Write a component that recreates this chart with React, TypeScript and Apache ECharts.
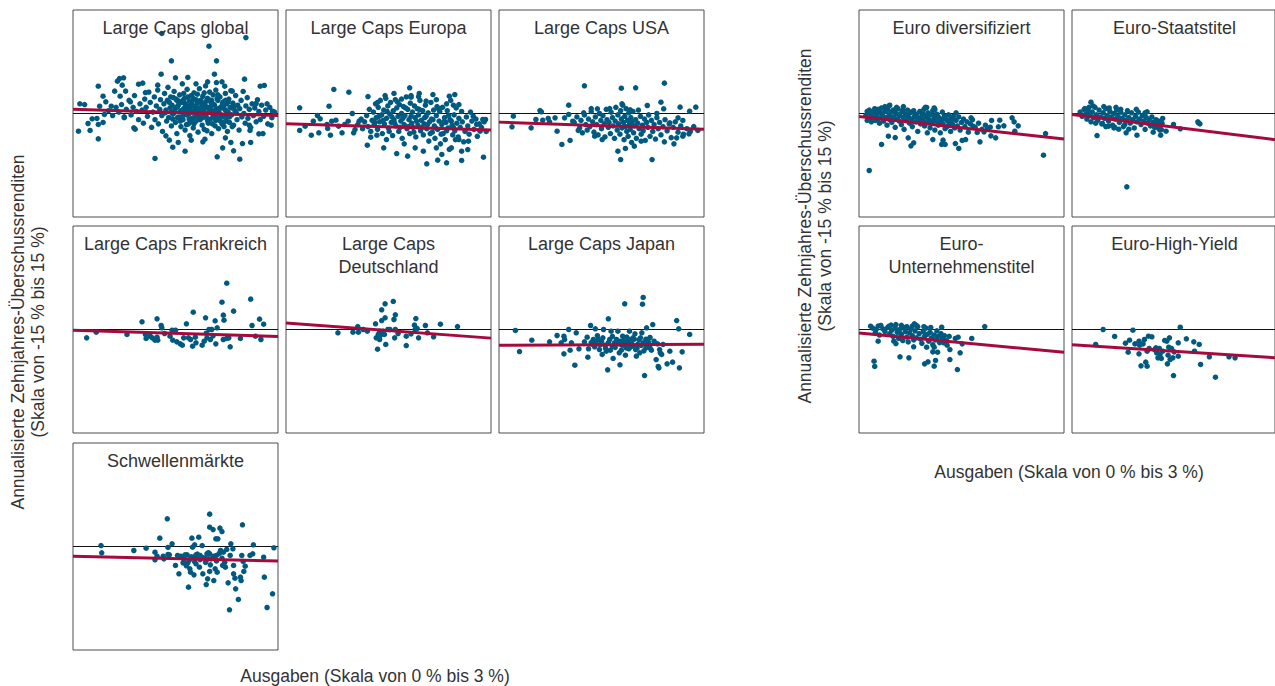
import React, { useEffect, useRef } from "react";
import * as echarts from "echarts";

// ---------- DATA ----------
const panelTitles = [
  "Large Caps global",
  "Large Caps Europa",
  "Large Caps USA",
  "Large Caps Frankreich",
  "Large Caps\nDeutschland",
  "Large Caps Japan",
  "Schwellenmärkte",
  "Euro diversifiziert",
  "Euro-Staatstitel",
  "Euro-\nUnternehmenstitel",
  "Euro-High-Yield",
];

const yAxisTitle = "Annualisierte Zehnjahres-Überschussrenditen\n(Skala von -15 % bis 15 %)";
const xAxisTitle = "Ausgaben (Skala von 0 % bis 3 %)";

const xRange = [0, 3];
const yRange = [-15, 15];

// regression lines: [value at 0 %, value at 3 %]
const fitLines = [
  [0.6, -0.3],
  [-1.5, -2.4],
  [-1.25, -2.3],
  [-0.1, -1.0],
  [0.95, -1.25],
  [-2.3, -2.15],
  [-1.4, -2.1],
  [-0.45, -3.7],
  [-0.15, -3.8],
  [-0.5, -3.3],
  [-2.2, -4.1],
];

const largeCapsGlobal = [
  [1.30,11.6],[2.53,11.0],[1.99,9.76],[1.44,7.63],[2.10,7.63],[1.29,5.70],[2.07,5.70],[1.50,5.17],[1.68,5.22],[0.68,5.07],
  [0.74,5.17],[2.51,4.98],[0.65,4.69],[0.96,4.25],[1.02,4.40],[1.80,4.30],[1.97,4.59],[2.10,4.49],[2.22,3.96],[0.37,3.96],
  [0.72,4.11],[1.24,4.11],[2.74,3.96],[2.80,4.06],[0.61,3.24],[0.77,3.24],[1.06,3.04],[0.44,2.51],[0.69,2.51],[2.33,3.24],
  [2.68,1.45],[2.84,1.40],[0.17,1.30],[0.48,1.69],[0.84,1.69],[0.56,1.06],[0.39,1.06],[0.08,-2.56],[0.25,-2.46],[0.37,-3.67],
  [0.22,-1.45],[0.28,-0.77],[0.35,-0.72],[0.44,-1.30],[0.37,-1.59],[0.46,-0.14],[0.75,-0.48],[0.89,-2.08],[0.91,-2.27],[1.20,-6.52],
  [1.46,-4.88],[1.54,-4.20],[1.64,-5.46],[1.73,-3.86],[1.90,-4.11],[1.93,-3.72],[2.11,-6.28],[2.19,-4.98],[2.31,-4.20],[2.35,-5.41],
  [2.44,-6.62],[2.48,-4.35],[2.60,-4.20],[2.23,-3.53],[2.78,-2.90],[2.72,-2.95],[2.90,-1.69],[2.92,0.34],[2.59,-2.46],[2.58,-1.69],
  [1.36,-3.24],[1.41,-3.86],[0.1,1.4],
  [0.52,0.4],[0.58,-0.3],[0.63,0.9],[0.67,0.2],[0.71,1.3],[0.75,-0.6],[0.78,0.6],[0.82,1.9],[0.85,-0.2],[0.88,0.9],
  [0.9,2.6],[0.93,0.3],[0.96,-0.9],[0.98,1.4],[1.01,0.5],[1.03,-1.4],[1.05,2.1],[1.07,0.9],[1.09,-0.4],[1.11,3.1],
  [1.13,1.6],[1.15,-2.0],[1.17,0.2],[1.19,2.4],[1.2,-0.9],[1.22,1.1],[1.24,3.4],[1.25,-1.5],[1.27,0.6],[1.28,2.0],
  [1.3,-0.3],[1.31,-2.6],[1.33,1.4],[1.34,2.9],[1.35,0.1],[1.37,-1.1],[1.38,1.9],[1.39,3.8],[1.4,-0.6],[1.42,0.8],
  [1.43,2.4],[1.44,-1.8],[1.45,1.2],[1.46,-0.1],[1.48,3.2],[1.49,0.5],[1.5,-1.3],[1.51,2.1],[1.52,-2.9],[1.53,1.0],
  [1.55,-0.5],[1.56,2.7],[1.57,0.3],[1.58,-1.9],[1.59,1.6],[1.6,4.3],[1.61,-0.9],[1.62,0.7],[1.63,2.2],[1.64,-2.4],
  [1.65,1.3],[1.66,-0.2],[1.67,3.5],[1.68,0.9],[1.69,-1.5],[1.7,1.8],[1.71,-3.2],[1.72,0.2],[1.73,2.6],[1.74,-0.7],
  [1.75,1.1],[1.76,-2.1],[1.77,3.0],[1.78,0.5],[1.79,-1.2],[1.8,2.0],[1.81,-0.3],[1.82,1.5],[1.83,-2.7],[1.84,0.8],
  [1.85,3.6],[1.86,-0.9],[1.87,1.9],[1.88,0.0],[1.89,-1.7],[1.9,2.5],[1.91,0.6],[1.92,-2.3],[1.93,1.3],[1.94,4.0],
  [1.95,-0.5],[1.96,0.9],[1.97,2.2],[1.98,-1.4],[1.99,0.3],[2.0,3.1],[2.01,-0.8],[2.02,1.6],[2.03,-2.9],[2.04,0.4],
  [2.05,2.7],[2.06,-0.1],[2.07,1.2],[2.08,-1.8],[2.09,3.4],[2.1,0.7],[2.11,-0.6],[2.12,1.9],[2.13,-2.2],[2.14,0.1],
  [2.15,2.4],[2.16,-1.1],[2.17,1.0],[2.18,4.6],[2.19,-0.4],[2.2,1.7],[2.21,-1.9],[2.22,0.6],[2.23,2.9],[2.24,-0.8],
  [2.25,1.4],[2.26,-2.6],[2.27,0.2],[2.28,2.1],[2.29,-1.3],[2.3,0.9],[2.31,3.3],[2.32,-0.2],[2.34,1.5],[2.35,-1.7],
  [2.37,0.4],[2.38,2.6],[2.4,-0.9],[2.41,1.2],[2.43,-2.4],[2.44,0.7],[2.46,1.9],[2.47,-0.5],[2.49,3.2],[2.5,0.0],
  [2.52,-1.4],[2.53,1.1],[2.55,2.3],[2.56,-0.7],[2.58,0.6],[2.6,-2.0],[2.62,1.4],[2.64,-0.3],[2.66,0.8],[2.68,-1.2],
  [2.7,2.0],[2.72,0.3],[2.74,-0.9],[2.76,1.2],[2.79,-0.4],[2.82,0.5],[2.85,-1.5],[2.88,0.9],[2.91,-0.6],[2.95,0.2],
  [1.36,0.5],[1.41,1.6],[1.44,0.2],[1.47,2.3],[1.5,0.8],[1.53,-0.6],[1.55,1.8],[1.58,0.4],[1.6,-0.4],[1.63,1.5],
  [1.65,0.5],[1.68,2.4],[1.7,-0.8],[1.72,1.2],[1.75,0.2],[1.77,-1.5],[1.79,1.0],[1.82,2.8],[1.84,-0.4],[1.86,0.7],
  [1.88,1.6],[1.9,-0.6],[1.93,0.1],[1.95,1.8],[1.97,-1.0],[1.99,2.0],[2.02,0.5],[2.04,-1.5],[2.06,1.3],[2.08,0.2],
  [2.11,2.2],[2.13,-0.9],[2.15,0.8],[2.17,-0.3],[2.2,1.1],[2.22,-1.2],[2.24,0.4],[2.27,1.7],[2.29,-0.5],[2.32,0.8],
  [1.46,-0.8],[1.52,1.9],[1.57,-1.1],[1.62,2.9],[1.66,-1.6],[1.71,0.6],[1.76,2.2],[1.81,-1.0],[1.87,-0.2],[1.92,3.0],
  [1.96,-2.5],[2.01,1.0],[2.07,-0.6],[2.12,2.7],[2.18,-1.5],[2.23,1.9],[2.28,-0.1],[2.33,-1.9],[2.36,1.0],[2.39,0.1],
  [1.48,0.1],[1.54,1.2],[1.59,-0.6],[1.64,0.9],[1.69,-0.1],[1.74,1.6],[1.78,-0.5],[1.83,0.4],[1.89,1.2],[1.94,-0.3],
  [1.98,0.8],[2.03,1.9],[2.09,-1.0],[2.14,0.6],[2.19,1.5],[2.25,-0.4],[1.61,1.9],[1.73,-1.2],[1.85,1.8],[2.05,-0.3],
];

const largeCapsEuropa = [
  [0.70,3.48],[0.92,3.09],[0.20,0.82],[0.63,1.06],[0.97,0.0],[1.20,2.46],[0.46,-0.29],[0.50,-0.77],[0.20,-2.46],[0.28,-1.84],
  [0.37,-3.14],[0.40,-1.11],[0.48,-2.80],[0.60,-1.59],[0.61,-2.17],[0.65,-3.14],[0.67,-1.11],[0.73,-0.97],[0.77,-1.84],[0.82,-2.80],
  [0.86,-1.59],[0.91,-1.11],[0.99,-2.80],[1.01,-2.32],[1.07,-1.11],[1.19,-4.59],[1.24,-3.43],[1.33,-3.14],[1.43,-4.98],[1.47,-3.77],
  [1.62,-5.80],[1.73,-4.40],[1.78,-6.18],[1.81,3.72],[1.83,2.37],[1.94,2.46],[2.15,2.75],[2.39,2.51],[2.47,2.75],[2.53,1.30],
  [2.06,-7.29],[2.22,-6.76],[2.35,-7.15],[2.57,-6.81],[2.89,-6.33],[2.66,-5.22],[2.53,-3.77],[2.67,-4.01],[2.74,-0.39],[2.88,-0.87],
  [2.92,-0.87],[2.79,-1.59],[2.84,-2.56],[2.28,-5.94],[2.42,-4.98],[2.57,-5.46],[2.20,-4.98],[2.01,-5.46],[1.89,-4.98],
  [1.05,-1.6],[1.1,-0.8],[1.12,-2.2],[1.15,-1.2],[1.18,-0.3],[1.2,-1.9],[1.22,0.6],[1.24,-2.6],[1.26,-1.0],[1.28,0.2],
  [1.29,-1.6],[1.31,1.4],[1.32,-0.6],[1.34,-2.3],[1.35,0.9],[1.37,-1.2],[1.38,1.9],[1.4,-0.2],[1.41,-2.9],[1.43,0.5],
  [1.44,-1.5],[1.46,2.2],[1.47,-0.7],[1.49,1.1],[1.5,-2.1],[1.52,-0.1],[1.53,1.6],[1.54,-1.3],[1.56,-3.2],[1.57,0.4],
  [1.58,-0.9],[1.6,2.0],[1.61,-1.8],[1.62,0.8],[1.64,-0.4],[1.65,-2.6],[1.66,1.3],[1.68,-1.1],[1.69,0.0],[1.7,-3.6],
  [1.72,1.0],[1.73,-1.6],[1.74,-0.3],[1.76,2.4],[1.77,-2.2],[1.78,0.6],[1.8,-0.9],[1.81,-2.9],[1.82,1.5],[1.84,-1.4],
  [1.85,0.2],[1.86,-2.0],[1.88,1.1],[1.89,-0.6],[1.9,-3.4],[1.92,0.7],[1.93,-1.7],[1.94,-0.2],[1.96,1.9],[1.97,-2.5],
  [1.98,-1.0],[2.0,0.4],[2.01,-3.1],[2.02,-1.5],[2.04,1.2],[2.05,-0.4],[2.06,-2.2],[2.08,0.1],[2.09,-4.0],[2.1,-1.2],
  [2.12,1.6],[2.13,-0.8],[2.14,-2.7],[2.16,0.5],[2.17,-1.8],[2.18,-3.6],[2.2,-0.3],[2.21,1.0],[2.22,-2.3],[2.24,-1.1],
  [2.25,0.3],[2.26,-4.4],[2.28,-1.6],[2.29,0.9],[2.3,-2.9],[2.32,-0.6],[2.33,-3.8],[2.34,-1.3],[2.36,0.4],[2.37,-2.1],
  [2.39,-5.2],[2.4,-0.9],[2.41,1.9],[2.43,-1.7],[2.44,-3.1],[2.46,-0.2],[2.47,-2.5],[2.49,0.8],[2.5,-1.4],[2.52,-3.4],
  [2.53,-0.7],[2.55,-2.0],[2.57,0.3],[2.58,-1.2],[2.6,-4.1],[2.62,-2.6],[2.64,-0.5],[2.66,-1.8],[2.68,-3.0],[2.7,0.2],
  [2.72,-1.1],[2.75,-2.3],[2.78,-0.8],[2.8,-3.3],[2.83,-1.5],[2.86,-2.0],[2.9,-1.2],[2.93,-2.6],
  [1.3,-1.3],[1.36,-0.4],[1.42,-1.0],[1.48,0.3],[1.51,-2.6],[1.55,-0.5],[1.59,-1.4],[1.63,1.7],[1.67,-2.0],[1.71,-0.7],
  [1.75,0.8],[1.79,-1.9],[1.83,-0.4],[1.87,-2.7],[1.91,-1.1],[1.95,0.6],[1.99,-2.0],[2.03,-0.6],[2.07,-1.6],[2.11,-2.9],
  [2.15,-0.9],[2.19,-2.1],[2.23,0.7],[2.27,-3.0],[2.31,-1.2],[2.35,-2.5],[2.38,-0.3],[2.42,-1.1],[2.45,-2.0],[2.48,-3.8],
  [1.34,1.6],[1.45,2.6],[1.58,2.9],[1.69,2.1],[1.83,2.6],[1.95,2.9],[2.05,1.8],[2.2,2.0],[2.35,1.4],[2.45,1.2],
];

const largeCapsUSA = [
  [1.25,4.01],[1.79,3.67],[2.00,3.72],[2.42,4.40],[2.37,1.64],[1.02,1.21],[0.60,0.43],[0.62,0.24],[0.21,-0.39],[0.19,-1.93],
  [0.47,-2.08],[0.54,-0.87],[0.64,-0.97],[0.72,-0.72],[0.74,-1.21],[0.82,-0.63],[0.85,-2.56],[0.92,-4.49],[1.04,-3.91],[0.96,-0.63],
  [1.02,-0.14],[1.08,-1.11],[1.16,-2.46],[1.24,0.10],[1.35,0.72],[1.44,0.68],[1.62,0.72],[1.80,1.40],[1.92,0.53],[2.17,1.16],
  [2.31,0.0],[2.41,0.68],[2.65,0.92],[2.79,0.34],[2.88,0.92],[1.74,-5.46],[1.78,-6.67],[1.85,-5.07],[2.24,-6.67],[1.98,-4.73],
  [2.08,-4.01],[2.42,-4.11],[2.56,-4.40],[2.60,-3.53],[2.69,-3.29],[2.78,-2.95],[2.91,-2.46],[2.62,-0.63],[2.69,-1.01],[2.50,-1.35],
  [1.40,-3.29],[1.51,-3.77],
  [1.1,-1.3],[1.14,-0.5],[1.18,-2.1],[1.2,-1.0],[1.22,-2.8],[1.25,-0.2],[1.27,-1.6],[1.29,-2.4],[1.31,-0.8],[1.33,-1.9],
  [1.35,0.3],[1.37,-1.2],[1.39,-2.7],[1.41,-0.5],[1.43,-1.6],[1.45,-3.1],[1.47,0.0],[1.49,-1.0],[1.5,-2.2],[1.52,-0.3],
  [1.54,-1.5],[1.55,-3.4],[1.57,0.6],[1.58,-0.9],[1.6,-2.0],[1.61,-1.3],[1.63,-2.9],[1.64,0.2],[1.66,-0.6],[1.67,-1.8],
  [1.69,-3.6],[1.7,-1.1],[1.71,0.9],[1.73,-2.4],[1.74,-0.2],[1.75,-1.5],[1.77,-3.0],[1.78,0.4],[1.79,-0.8],[1.8,-2.1],
  [1.81,1.2],[1.82,-1.3],[1.83,-3.8],[1.84,-0.4],[1.85,-1.9],[1.86,0.7],[1.87,-2.6],[1.88,-1.0],[1.89,-3.3],[1.9,0.1],
  [1.91,-1.6],[1.92,-2.3],[1.93,-0.6],[1.94,-4.2],[1.95,-1.2],[1.96,0.3],[1.97,-2.8],[1.98,-1.8],[2.0,-0.9],[2.01,-3.6],
  [2.03,-1.4],[2.04,0.5],[2.05,-2.2],[2.07,-0.4],[2.08,-3.0],[2.1,-1.7],[2.11,-2.5],[2.13,-0.8],[2.14,-3.9],[2.16,-1.3],
  [2.18,-2.0],[2.19,-0.2],[2.21,-3.3],[2.23,-1.0],[2.25,-2.6],[2.27,-1.6],[2.29,-3.7],[2.31,-0.6],[2.33,-2.2],[2.35,-1.3],
  [2.37,-3.1],[2.4,-1.9],[2.43,-0.9],[2.46,-2.5],[2.49,-1.5],[2.52,-3.5],[2.55,-2.0],[2.58,-1.2],[2.62,-2.7],[2.66,-1.8],
  [2.7,-3.0],[2.75,-2.2],[2.8,-2.6],[2.85,-1.9],
];

const largeCapsFrankreich = [
  [0.20,-1.21],[0.34,-0.39],[0.79,-0.72],[1.01,1.11],[1.23,1.55],[1.06,-0.72],[1.07,-1.30],[1.13,-0.97],[1.16,-1.21],[1.20,-1.55],
  [1.23,-1.11],[1.24,-1.55],[1.29,0.58],[1.30,0.24],[1.34,-0.58],[1.42,-0.97],[1.45,-0.10],[1.46,-1.55],[1.50,-0.10],[1.52,-1.79],
  [1.57,-2.08],[1.60,-2.27],[1.62,-1.21],[1.66,0.82],[1.69,-1.21],[1.72,-1.45],[1.75,-2.42],[1.76,2.51],[1.79,-1.11],[1.80,-1.93],
  [1.89,-2.27],[1.94,1.69],[1.92,-1.69],[1.95,-0.53],[1.96,-1.21],[1.99,0.0],[2.01,-1.45],[2.03,0.0],[2.05,-0.92],[2.08,1.26],
  [2.09,-2.08],[2.11,0.24],[2.18,3.96],[2.20,-1.45],[2.20,2.08],[2.21,1.35],[2.25,6.71],[2.25,-1.30],[2.28,-1.21],[2.30,-2.51],
  [2.35,2.66],[2.45,-1.30],[2.60,4.40],[2.62,0.58],[2.67,-0.97],[2.73,1.50],[2.75,-1.45],[2.79,0.77],
];

const largeCapsDeutschland = [
  [0.76,-0.48],[0.98,-0.39],[1.05,0.43],[1.06,-0.39],[1.13,0.0],[1.19,-0.24],[1.31,0.82],[1.32,-1.21],[1.34,-2.85],[1.35,-0.72],
  [1.37,-1.45],[1.38,-0.87],[1.40,1.30],[1.40,2.85],[1.41,-0.48],[1.44,-0.72],[1.45,3.72],[1.45,1.69],[1.46,-2.17],[1.49,0.0],
  [1.52,0.0],[1.57,4.06],[1.58,1.45],[1.60,2.13],[1.59,-1.21],[1.60,0.0],[1.64,-0.58],[1.76,-0.97],[1.76,-2.32],[1.83,-0.63],
  [1.88,0.63],[1.89,0.0],[1.90,1.59],[1.92,0.14],[1.94,-1.21],[2.04,0.58],[2.07,-0.48],[2.16,-1.06],[2.26,0.77],[2.51,0.43],
  [1.37,-0.24],[1.42,-0.24],
];

const largeCapsJapan = [
  [0.24,-0.14],[0.30,-3.19],[0.48,-1.55],[0.74,-1.79],[0.85,-0.87],[0.91,-1.93],[0.95,-0.97],[0.95,-3.53],[0.96,-1.45],[1.02,0.0],
  [1.04,-3.00],[1.06,-1.93],[1.11,-5.17],[1.13,-0.48],[1.17,-2.80],[1.25,-1.79],[1.29,-1.11],[1.30,-4.01],[1.31,-2.80],[1.34,0.58],
  [1.37,-2.17],[1.38,-1.45],[1.41,0.10],[1.42,-1.79],[1.45,-1.45],[1.47,-2.90],[1.50,-1.69],[1.51,-3.62],[1.53,0.0],[1.55,-2.27],
  [1.57,-3.14],[1.59,-5.85],[1.60,1.55],[1.62,-1.45],[1.64,-0.24],[1.66,-2.42],[1.67,-4.20],[1.69,-1.93],[1.72,-1.45],[1.74,-0.24],
  [1.76,-3.38],[1.77,-5.12],[1.78,-1.69],[1.80,-2.27],[1.81,-0.97],[1.84,3.72],[1.85,-3.72],[1.86,-2.66],[1.88,-1.79],[1.90,-1.45],
  [1.91,-0.24],[1.92,-2.56],[1.94,-1.93],[1.96,-1.21],[1.99,-0.63],[2.00,-2.90],[2.01,-3.86],[2.03,-2.17],[2.06,-3.38],[2.07,-1.21],
  [2.09,-0.48],[2.10,3.67],[2.11,-1.93],[2.11,4.64],[2.13,-6.67],[2.15,-2.66],[2.16,0.24],[2.18,-1.69],[2.21,-1.16],[2.21,-2.66],
  [2.25,0.72],[2.30,-4.35],[2.32,-2.08],[2.33,-5.36],[2.34,-5.56],[2.35,-2.90],[2.36,-3.38],[2.38,-3.62],[2.40,-2.17],[2.46,-4.98],
  [2.50,-3.14],[2.54,-4.73],[2.60,1.30],[2.63,0.10],[2.64,-5.56],[2.68,-3.24],[2.79,-0.72],
  [1.35,-1.9],[1.4,-2.5],[1.44,-0.9],[1.48,-2.2],[1.52,-1.2],[1.56,-2.7],[1.6,-1.9],[1.63,-3.0],[1.66,-1.0],[1.7,-2.6],
  [1.73,-1.6],[1.76,-2.1],[1.79,-3.0],[1.82,-1.6],[1.84,-2.3],[1.87,-1.1],[1.9,-2.8],[1.93,-1.6],[1.96,-2.4],[1.98,-1.4],
  [2.02,-2.7],[2.05,-1.5],[2.08,-2.3],[2.12,-3.1],[2.15,-1.4],[2.19,-2.0],[2.23,-3.0],[2.27,-1.7],
];

const schwellenmaerkte = [
  [0.41,0.14],[0.42,-0.92],[0.89,-0.58],[1.07,-0.24],[1.20,-0.82],[1.20,-1.93],[1.23,-1.40],[1.27,1.21],[1.32,-1.40],[1.33,-1.79],
  [1.38,4.01],[1.39,-0.14],[1.39,-1.16],[1.41,-1.21],[1.45,0.39],[1.50,-2.75],[1.53,-1.30],[1.55,-3.96],[1.61,-2.37],[1.64,-1.21],
  [1.65,-2.51],[1.68,-2.37],[1.69,-5.89],[1.71,-3.24],[1.72,-3.72],[1.74,1.21],[1.75,-0.10],[1.76,-1.55],[1.77,-4.11],[1.78,0.24],
  [1.80,-1.21],[1.80,-2.51],[1.81,-1.40],[1.84,1.35],[1.85,-3.00],[1.86,-1.30],[1.89,0.14],[1.90,-3.96],[1.93,-1.69],[1.95,-5.51],
  [1.96,-1.06],[1.97,-4.69],[1.98,-1.79],[2.00,4.69],[2.00,-3.62],[2.00,2.80],[2.00,-1.06],[2.01,-2.66],[2.05,2.46],[2.06,-4.93],
  [2.08,-3.24],[2.09,1.11],[2.10,-1.30],[2.11,-3.72],[2.12,1.11],[2.15,2.66],[2.16,-0.58],[2.18,2.17],[2.19,-2.75],[2.20,-0.82],
  [2.23,-3.00],[2.25,-0.43],[2.27,-5.27],[2.29,-9.18],[2.30,-1.30],[2.31,0.39],[2.34,-0.34],[2.35,-2.75],[2.35,-3.96],[2.37,-4.59],
  [2.38,-6.14],[2.42,-7.68],[2.45,-4.44],[2.46,-4.93],[2.47,-1.30],[2.48,3.14],[2.49,-2.17],[2.50,-3.62],[2.52,-2.85],[2.59,-1.30],
  [2.64,0.24],[2.63,-1.06],[2.79,-1.55],[2.80,-4.44],[2.84,-8.84],[2.92,-6.86],[2.94,-0.19],
  [1.62,-1.8],[1.67,-1.2],[1.7,-2.0],[1.73,-1.5],[1.78,-2.2],[1.82,-1.1],[1.86,-1.9],[1.9,-1.6],[1.94,-2.3],[1.98,-0.9],
  [2.02,-1.8],[2.06,-1.4],[2.1,-2.1],[2.14,-1.0],[2.18,-1.7],[2.22,-2.3],[1.58,-1.4],[1.66,-2.8],
];

const euroDiversifiziert = [
  [0.15,-8.26],[2.70,-6.04],[2.73,-2.90],[0.33,-4.49],[0.43,-3.29],[0.53,-3.48],[0.72,-3.53],[0.76,-4.69],[0.80,-4.25],[1.00,-2.80],
  [1.08,-3.77],[1.21,-4.49],[1.26,-4.49],[1.23,-3.86],[1.41,-4.35],[1.46,-5.07],[1.51,-3.91],[1.56,-3.77],[1.77,-4.11],[1.73,-2.75],
  [1.83,-2.66],[1.93,-3.24],[2.00,-3.53],[1.94,-1.01],[2.06,-0.97],[2.04,-1.93],[2.12,-1.79],[2.24,-0.63],[2.27,-1.21],[2.33,-1.79],
  [2.28,-2.56],[1.92,-1.98],[1.88,-2.17],[1.64,-0.63],[1.67,-1.84],[1.42,0.10],[1.11,0.58],[0.99,0.87],[0.44,1.11],[0.16,0.34],
  [0.12,-1.01],[0.20,-0.63],[0.27,0.14],
  [0.1,-0.3],[0.12,0.3],[0.14,-0.8],[0.15,0.5],[0.17,-0.1],[0.18,-1.2],[0.2,0.2],[0.21,-0.5],[0.23,0.7],[0.24,-1.0],
  [0.26,-0.2],[0.27,0.4],[0.29,-0.7],[0.3,-1.4],[0.32,0.1],[0.33,0.8],[0.35,-0.4],[0.36,-1.1],[0.38,0.3],[0.39,-0.6],
  [0.41,-1.7],[0.42,0.6],[0.44,-0.2],[0.45,-0.9],[0.47,0.2],[0.48,-1.3],[0.5,0.5],[0.51,-0.5],[0.53,-2.0],[0.54,0.0],
  [0.56,-0.8],[0.57,0.7],[0.59,-1.1],[0.6,-0.3],[0.62,-1.6],[0.63,0.3],[0.65,-0.6],[0.66,-2.3],[0.68,-0.1],[0.69,-1.0],
  [0.71,0.5],[0.72,-0.4],[0.74,-1.4],[0.75,0.1],[0.77,-0.8],[0.78,-1.9],[0.8,0.4],[0.81,-0.5],[0.83,-1.2],[0.84,-0.1],
  [0.86,-2.6],[0.87,-0.7],[0.89,0.3],[0.9,-1.5],[0.92,-0.3],[0.93,-1.0],[0.95,0.6],[0.96,-1.8],[0.98,-0.5],[0.99,-1.3],
  [1.01,0.1],[1.02,-0.9],[1.04,-2.1],[1.05,-0.2],[1.07,-1.4],[1.08,0.4],[1.1,-0.7],[1.11,-2.4],[1.13,-1.1],[1.14,-0.1],
  [1.16,-1.7],[1.17,-0.6],[1.19,-2.8],[1.2,-1.0],[1.22,0.2],[1.23,-1.5],[1.25,-0.4],[1.26,-2.2],[1.28,-0.9],[1.29,-1.9],
  [1.31,-0.2],[1.32,-1.3],[1.34,-2.6],[1.35,-0.7],[1.37,-1.6],[1.38,-0.4],[1.4,-2.1],[1.42,-1.0],[1.44,-1.8],[1.46,-0.5],
  [1.48,-2.4],[1.5,-1.3],[1.53,-0.8],[1.55,-1.9],[1.58,-1.2],[1.6,-2.7],[1.63,-1.5],[1.66,-0.9],[1.7,-2.0],[1.75,-1.4],
  [1.8,-2.3],[1.85,-1.7],[0.22,-0.9],[0.28,0.6],[0.34,-0.2],[0.4,0.4],[0.46,-0.4],[0.52,0.3],[0.58,-0.1],[0.64,0.5],
  [0.7,-0.6],[0.76,0.2],[0.82,-0.3],[0.88,-0.9],[0.94,-0.1],[1.0,-0.6],[1.06,-1.1],[1.12,-0.3],[1.18,-1.4],[1.24,-0.7],
  [1.3,-1.1],[1.36,-0.9],[0.45,1.2],[0.38,1.0],[0.55,0.9],[0.65,1.0],[0.97,0.9],[1.1,0.8],
];

const euroStaatstitel = [
  [0.81,-10.63],[0.28,1.64],[0.19,0.72],[0.37,-3.19],[1.87,-1.35],[1.89,-1.50],[1.86,-1.21],[1.60,-2.22],[1.50,-1.59],[1.39,-2.56],
  [1.31,-3.14],[1.20,-2.71],[1.28,-2.17],[1.32,-2.32],[1.34,-0.72],[1.11,0.24],[0.96,-3.14],[0.80,-2.80],[0.84,-2.27],[0.69,-2.27],
  [0.63,-1.98],[0.54,-1.84],[0.45,-1.45],
  [0.12,0.2],[0.15,-0.4],[0.18,0.6],[0.2,-0.1],[0.22,-0.8],[0.24,0.4],[0.26,-0.3],[0.28,-1.2],[0.3,0.2],[0.32,-0.6],
  [0.34,0.9],[0.36,-0.2],[0.38,-1.0],[0.4,0.5],[0.42,-0.5],[0.44,-1.5],[0.46,0.1],[0.48,-0.7],[0.5,0.7],[0.52,-0.3],
  [0.54,-1.1],[0.56,0.3],[0.58,-0.5],[0.6,-1.7],[0.62,0.0],[0.64,-0.8],[0.66,0.5],[0.68,-0.4],[0.7,-1.3],[0.72,0.2],
  [0.74,-0.7],[0.76,-1.9],[0.78,-0.2],[0.8,-1.0],[0.82,0.4],[0.84,-0.6],[0.86,-1.4],[0.88,0.1],[0.9,-0.9],[0.92,-2.1],
  [0.94,-0.4],[0.96,-1.2],[0.98,0.2],[1.0,-0.8],[1.02,-1.6],[1.04,-0.3],[1.06,-1.1],[1.08,-2.3],[1.1,-0.6],[1.12,-1.4],
  [1.14,-0.9],[1.16,-1.8],[1.18,-0.5],[1.2,-1.3],[1.22,-2.0],[1.24,-0.9],[1.26,-1.6],[1.28,-1.1],[1.3,-2.4],[1.33,-1.4],
  [0.25,0.9],[0.31,1.1],[0.47,1.0],[0.55,0.8],[0.65,0.9],[0.72,0.6],[0.95,0.6],[1.08,0.1],[0.35,-1.4],[0.5,-1.9],
  [0.62,-2.1],[0.78,-1.6],
];

const euroUnternehmenstitel = [
  [0.22,-4.59],[0.23,-5.36],[0.28,-1.69],[0.17,0.48],[0.60,-3.96],[0.73,-4.11],[0.81,0.82],[0.80,-2.51],[0.96,-4.98],[1.01,-4.69],
  [1.10,-5.31],[1.08,-3.24],[1.15,-3.29],[1.12,-4.49],[1.33,-4.35],[1.44,-5.80],[1.48,-3.38],[1.84,0.43],[1.21,0.34],
  [0.25,0.0],[0.32,0.58],[0.44,0.48],[0.47,0.63],[0.54,0.72],[0.51,-1.69],[0.54,-2.03],[0.99,-2.56],[1.10,-2.56],[1.41,-1.30],
  [1.45,-1.11],[1.51,-2.08],[1.65,-1.30],[1.24,-1.93],[1.29,-2.27],[1.33,-2.90],
  [0.2,0.2],[0.24,-0.4],[0.28,0.5],[0.3,-0.8],[0.35,0.1],[0.38,-0.3],[0.42,0.3],[0.45,-0.6],[0.48,-0.1],[0.5,-1.0],
  [0.53,0.2],[0.56,-0.4],[0.58,-1.3],[0.6,0.0],[0.62,-0.7],[0.64,-1.6],[0.66,0.3],[0.68,-0.3],[0.7,-1.1],[0.72,-1.8],
  [0.74,-0.5],[0.76,0.1],[0.78,-0.9],[0.8,-1.5],[0.82,-0.2],[0.84,-1.2],[0.86,0.4],[0.88,-0.6],[0.9,-1.4],[0.92,-2.0],
  [0.94,-0.3],[0.96,-1.0],[0.98,0.2],[1.0,-0.7],[1.02,-1.7],[1.04,-0.4],[1.06,-1.2],[1.08,-2.2],[1.1,-0.8],[1.12,-1.5],
  [1.14,-0.2],[1.16,-1.0],[1.18,-1.9],[1.2,-0.6],[1.22,-1.3],[1.25,-0.9],[1.28,-1.6],[1.32,-1.0],[0.78,0.5],[0.84,0.6],
  [0.7,0.4],[0.95,0.4],[1.05,0.3],[0.62,0.6],
];

const euroHighYield = [
  [0.35,-2.17],[0.46,0.0],[0.63,-1.01],[0.79,-1.98],[0.83,-3.29],[0.85,-1.55],[0.90,-0.10],[0.93,-2.08],[0.99,-1.69],[0.99,-3.53],
  [1.00,-2.27],[1.02,-5.27],[1.05,-2.08],[1.07,-1.45],[1.09,-4.73],[1.11,-5.31],[1.11,-3.14],[1.13,-0.97],[1.14,-2.75],[1.18,-1.06],
  [1.22,-2.90],[1.24,-2.66],[1.25,-3.38],[1.27,-4.11],[1.29,-2.75],[1.30,-3.62],[1.32,-4.20],[1.34,-3.14],[1.37,-1.59],[1.40,-1.69],
  [1.41,-4.98],[1.42,-3.72],[1.43,-2.56],[1.44,-1.21],[1.45,-4.35],[1.47,-2.75],[1.49,-4.11],[1.50,-6.67],[1.51,-3.24],[1.57,-1.93],
  [1.57,-3.86],[1.60,0.34],[1.69,-1.35],[1.80,-1.79],[1.81,-3.14],[1.88,-2.17],[1.90,-5.07],[2.03,-3.96],[2.12,-6.91],[2.32,-3.96],
  [2.41,-4.11],
];

const panelPoints = [
  largeCapsGlobal,
  largeCapsEuropa,
  largeCapsUSA,
  largeCapsFrankreich,
  largeCapsDeutschland,
  largeCapsJapan,
  schwellenmaerkte,
  euroDiversifiziert,
  euroStaatstitel,
  euroUnternehmenstitel,
  euroHighYield,
];

// ---------- LAYOUT ----------
const PW = 205;
const PH = 207;
const panelPos = [
  [73, 10], [286, 10], [499, 10],
  [73, 226], [286, 226], [499, 226],
  [73, 443],
  [859, 10], [1072, 10],
  [859, 226], [1072, 226],
];

const TEXT = "#333333";
const FONT = "'Liberation Sans', Arial, sans-serif";
const DOT = "#005a80";
const FIT = "#a50a3c";

export default function App() {
  const ref = useRef<HTMLDivElement>(null);

  useEffect(() => {
    if (!ref.current) return;
    const chart = echarts.init(ref.current, undefined, { renderer: "svg" });

    const grid = panelPos.map(([x, y]) => ({
      left: x,
      top: y,
      width: PW,
      height: PH,
      show: true,
      borderColor: "#4d4d4d",
      borderWidth: 1,
      backgroundColor: "transparent",
    }));
    const xAxis = panelPos.map((_, i) => ({
      type: "value",
      gridIndex: i,
      min: xRange[0],
      max: xRange[1],
      show: false,
      splitLine: { show: false },
    }));
    const yAxis = panelPos.map((_, i) => ({
      type: "value",
      gridIndex: i,
      min: yRange[0],
      max: yRange[1],
      show: false,
      splitLine: { show: false },
    }));

    const series: any[] = [];
    panelPoints.forEach((pts, i) => {
      series.push({
        type: "line",
        xAxisIndex: i,
        yAxisIndex: i,
        data: [[xRange[0], 0], [xRange[1], 0]],
        symbol: "none",
        silent: true,
        lineStyle: { color: "#111", width: 1 },
        z: 1,
      });
      series.push({
        type: "scatter",
        xAxisIndex: i,
        yAxisIndex: i,
        data: pts,
        symbolSize: 5.5,
        itemStyle: { color: DOT, opacity: 1 },
        z: 2,
      });
      series.push({
        type: "line",
        xAxisIndex: i,
        yAxisIndex: i,
        data: [[xRange[0], fitLines[i][0]], [xRange[1], fitLines[i][1]]],
        symbol: "none",
        silent: true,
        lineStyle: { color: FIT, width: 3 },
        z: 3,
      });
    });

    const textStyle = (text: string, size: number, lh?: number) => ({
      text,
      fill: TEXT,
      fontFamily: FONT,
      fontSize: size,
      fontWeight: "normal",
      align: "center",
      verticalAlign: "middle",
      lineHeight: lh,
    });

    const graphic: any[] = panelTitles.map((t, i) => {
      const lines = t.split("\n").length;
      const [x, y] = panelPos[i];
      return {
        type: "text",
        x: x + PW / 2,
        y: y + 18 + (lines - 1) * 11.5,
        z: 10,
        style: textStyle(t, 18, 23),
      };
    });
    graphic.push(
      { type: "text", x: 28, y: 332, rotation: Math.PI / 2, style: textStyle(yAxisTitle, 17.5, 20) },
      { type: "text", x: 815, y: 226, rotation: Math.PI / 2, style: textStyle(yAxisTitle, 17.5, 20) },
      { type: "text", x: 375, y: 676, style: textStyle(xAxisTitle, 17.5, 18) },
      { type: "text", x: 1069, y: 472, style: textStyle(xAxisTitle, 17.5, 18) }
    );

    chart.setOption({
      animation: false,
      backgroundColor: "#ffffff",
      grid,
      xAxis,
      yAxis,
      series,
      graphic,
    });

    return () => chart.dispose();
  }, []);

  return (
    <div
      ref={ref}
      style={{ position: "absolute", left: 0, top: 0, width: 1275, height: 686 }}
    />
  );
}
